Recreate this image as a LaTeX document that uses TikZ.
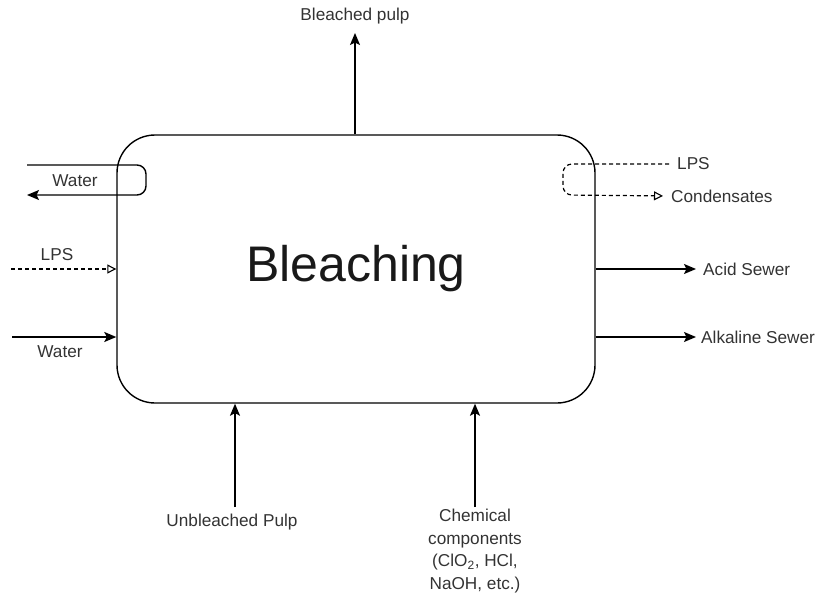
\documentclass[tikz,border=0pt]{standalone}
\usepackage{fontspec}
\setmainfont{Liberation Sans}
\usetikzlibrary{arrows.meta}
\begin{document}
\begin{tikzpicture}[x=1pt,y=-1pt,
  every node/.style={text=black!80, font=\fontsize{17.2}{22.5}\selectfont, inner sep=0pt},
  flow/.style={line width=1.4pt, -{Stealth[length=12pt,width=10pt,inset=2.5pt]}},
  steam/.style={line width=1.2pt, dash pattern=on 4pt off 3pt,
    -{Triangle[open,length=9pt,width=9pt,line width=1.1pt]}},
  lbl/.style={align=center}]
\useasboundingbox (0,0) rectangle (821,599);

% process block
\node[draw, line width=1.4pt, rounded corners=38pt, minimum width=478pt,
  minimum height=268pt, font=\fontsize{50}{56}\selectfont, text=black!90] (box) at (356,269) {Bleaching};

% top outlet
\node (bp) at (355,16) {Bleached pulp};
\coordinate (bpTip) at (355,33);
\draw[flow] (box.north -| bpTip) -- (bpTip);

% cooling water loop on the left
\coordinate (wIn) at (27,165);
\coordinate (wOut) at (27,195);
\draw[flow, rounded corners=9pt] (wIn) -- (146,165) -- (146,195) -- (wOut);
\node (w1) at (75,181) {Water};

% left inlets
\node (lpsL) at (57,255) {LPS};
\coordinate (lpsLs) at (11,269);
\draw[steam] (lpsLs) -- (lpsLs -| box.west);
\node (w2) at (60,352) {Water};
\coordinate (w2s) at (12,337);
\draw[flow] (w2s) -- (w2s -| box.west);

% steam loop on the right
\node[anchor=west] (lpsR) at (677,164) {LPS};
\node[anchor=west] (cond) at (671,196) {Condensates};
\draw[steam, rounded corners=9pt, shorten <=8pt, shorten >=8pt] (lpsR.west) -- (563,164) -- (563,195) -- (cond.west);

% right outlets
\node[anchor=west] (acid) at (703,269) {Acid Sewer};
\draw[flow, shorten >=7pt] (acid.west -| box.east) -- (acid.west);
\node[anchor=west] (alk) at (701,337) {Alkaline Sewer};
\draw[flow, shorten >=5pt] (alk.west -| box.east) -- (alk.west);

% bottom inlets
\node (ubp) at (232,522) {Unbleached Pulp};
\coordinate (ubpS) at (235,507);
\draw[flow] (ubpS) -- (ubpS |- box.south);
\node[lbl] (chem) at (475,551) {Chemical\\components\\(ClO\textsubscript{2}, HCl,\\NaOH, etc.)};
\coordinate (chemS) at (475,507);
\draw[flow] (chemS) -- (chemS |- box.south);
\end{tikzpicture}
\end{document}
